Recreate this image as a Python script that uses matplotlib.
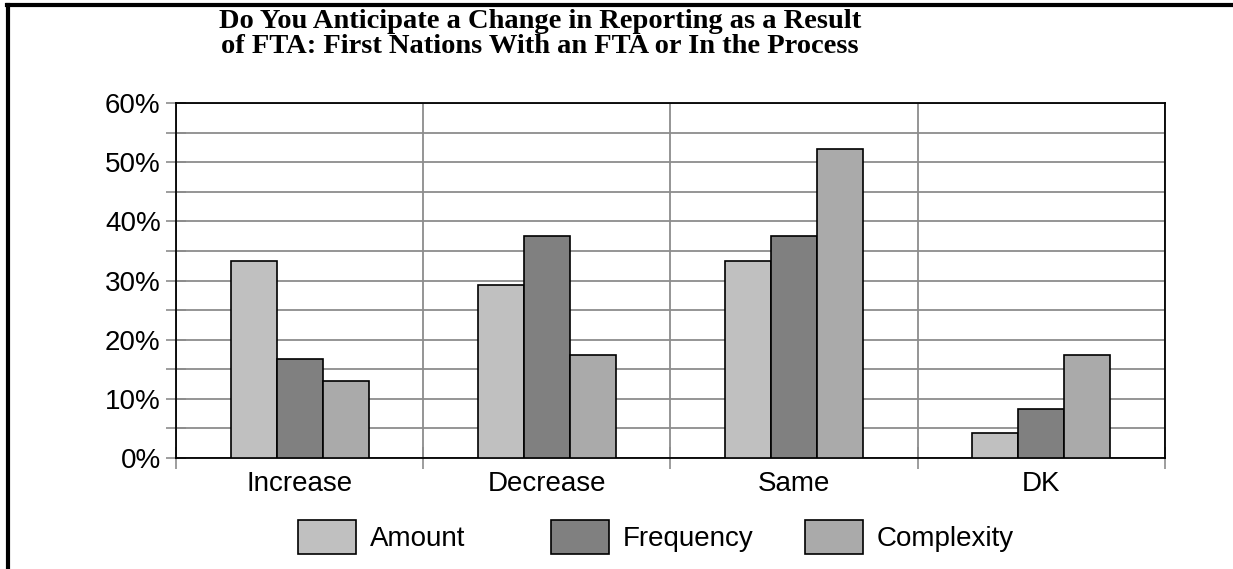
import numpy as np
import matplotlib
matplotlib.use("Agg")
import matplotlib.pyplot as plt
from matplotlib.lines import Line2D
from matplotlib.ticker import MultipleLocator, FuncFormatter

categories = ["Increase", "Decrease", "Same", "DK"]
series = ["Amount", "Frequency", "Complexity"]
amount = [33.3, 29.2, 33.3, 4.2]
frequency = [16.7, 37.5, 37.5, 8.3]
complexity = [13.0, 17.4, 52.2, 17.4]
colors = ["#C0C0C0", "#808080", "#AAAAAA"]

plt.rcParams['font.family'] = ['Liberation Sans', 'DejaVu Sans']

fig = plt.figure(figsize=(12.33, 5.69), dpi=100)
ax = fig.add_axes([0.1427, 0.195, 0.8021, 0.624])

x = np.arange(len(categories))
w = 0.186
bars = []
for i, (vals, c) in enumerate(zip([amount, frequency, complexity], colors)):
    b = ax.bar(x + (i - 1) * w, vals, w, color=c, edgecolor='black',
               linewidth=1.2, zorder=3, label=series[i])
    bars.append(b)

ax.set_xlim(-0.5, 3.5)
ax.set_ylim(0, 60)
ax.yaxis.set_major_locator(MultipleLocator(10))
ax.yaxis.set_minor_locator(MultipleLocator(5))
ax.yaxis.set_major_formatter(FuncFormatter(lambda v, p: f"{int(v)}%"))
ax.set_xticks(x)
ax.set_xticklabels(categories)
ax.set_xticks(np.arange(-0.5, 4, 1), minor=True)

ax.grid(True, which='both', axis='y', color='#8c8c8c', linewidth=1.3, zorder=0)
ax.grid(True, which='minor', axis='x', color='#8c8c8c', linewidth=1.3, zorder=0)
ax.tick_params(axis='y', which='both', direction='inout', length=14,
               width=1.2, color='#8c8c8c', labelsize=20, pad=4)
ax.tick_params(axis='x', which='major', length=0, labelsize=20, pad=9)
ax.tick_params(axis='x', which='minor', direction='inout', length=16,
               width=1.2, color='#8c8c8c')
for s in ax.spines.values():
    s.set_color('black')
    s.set_linewidth(1.3)
ax.set_axisbelow(True)

fig.text(0.438, 0.984, "Do You Anticipate a Change in Reporting as a Result\n"
         "of FTA: First Nations With an FTA or In the Process",
         ha='center', va='top', fontsize=20.5, fontweight='bold',
         family='Liberation Serif', linespacing=0.97)

# legend entries at equal spacing
legend_x = [0.242, 0.447, 0.653]
for b, name, lx in zip(bars, series, legend_x):
    fig.legend([b], [name], loc='center left', bbox_to_anchor=(lx, 0.057),
               frameon=False, fontsize=20, handlelength=2.07, handleheight=1.5,
               handletextpad=0.5, borderpad=0, borderaxespad=0)

# page border (left and top)
fig.add_artist(Line2D([8 / 1233, 8 / 1233], [0, 1 - 5 / 569], color='black',
                      linewidth=3, transform=fig.transFigure))
fig.add_artist(Line2D([6.5 / 1233, 1], [1 - 5 / 569, 1 - 5 / 569], color='black',
                      linewidth=3, transform=fig.transFigure))

fig.savefig("out.png", dpi=100)
